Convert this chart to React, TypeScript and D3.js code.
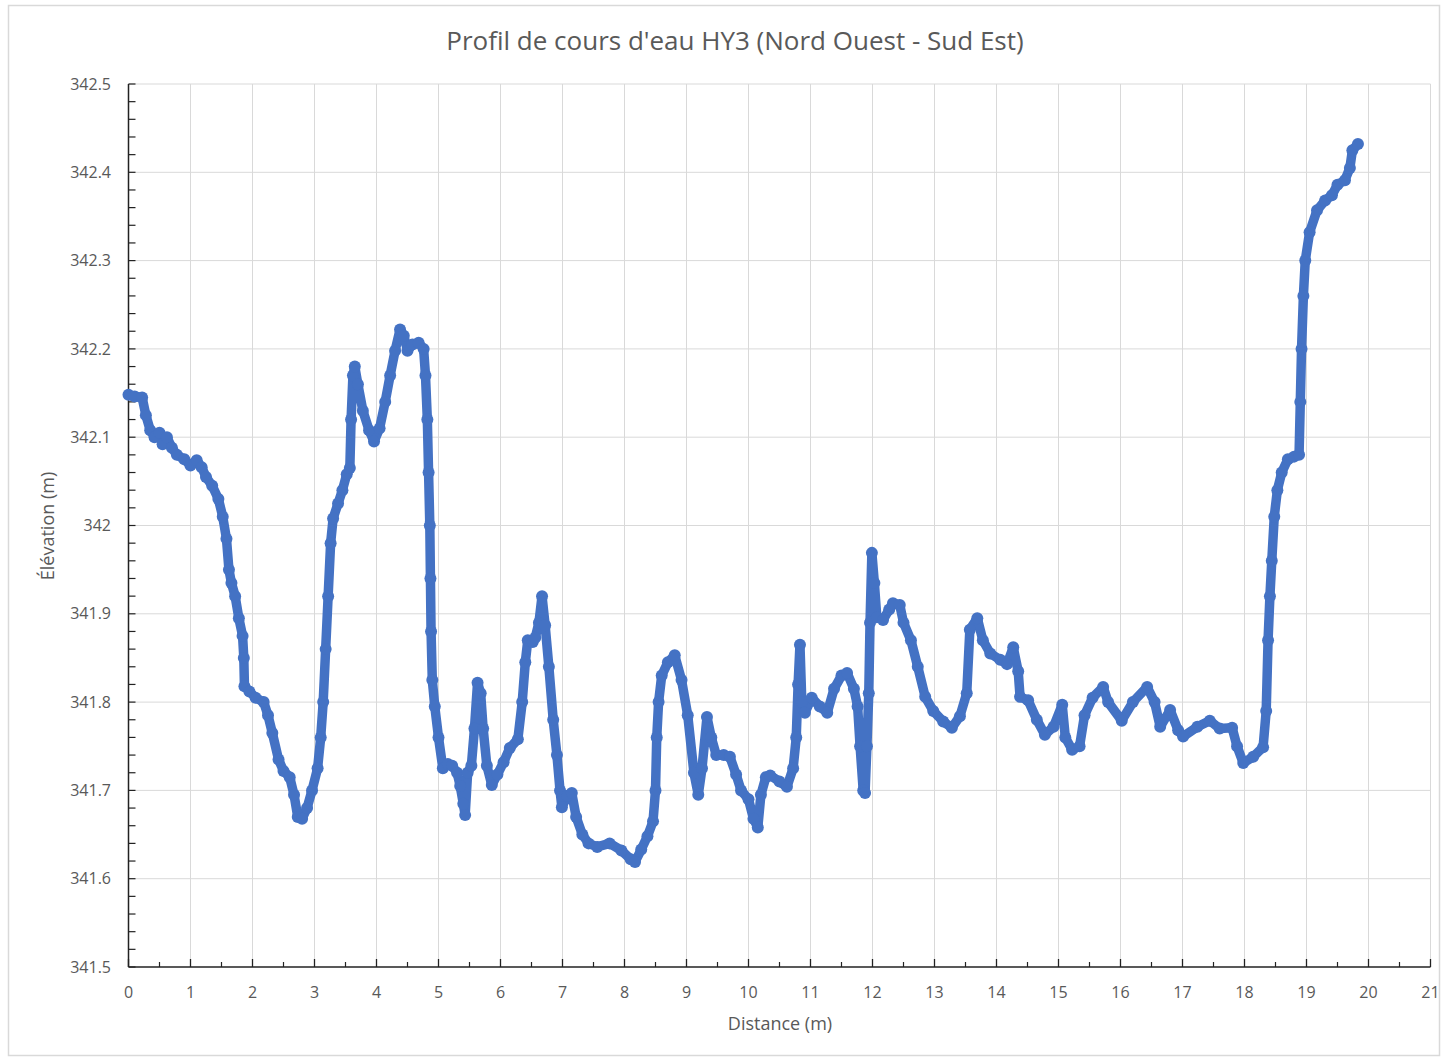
import React from "react";
import * as d3 from "d3";

const distance: number[] = [
  0.0, 0.1, 0.22, 0.28, 0.35, 0.42, 0.5, 0.55, 0.62, 0.7, 0.78, 0.9, 1.0, 1.1, 1.18, 1.25, 1.35, 1.45, 1.52, 1.58,
  1.62, 1.66, 1.72, 1.78, 1.84, 1.86, 1.87, 1.95, 2.05, 2.18, 2.25, 2.32, 2.42, 2.5, 2.6, 2.67, 2.73, 2.8, 2.88, 2.96,
  3.05, 3.1, 3.14, 3.18, 3.22, 3.26, 3.3, 3.38, 3.45, 3.52, 3.57, 3.59, 3.62, 3.65, 3.7, 3.78, 3.88, 3.96, 4.05, 4.14,
  4.22, 4.3, 4.38, 4.44, 4.5, 4.58, 4.68, 4.76, 4.79, 4.82, 4.84, 4.86, 4.87, 4.88, 4.9, 4.94, 5.0, 5.07, 5.15, 5.22,
  5.3, 5.35, 5.4, 5.43, 5.47, 5.53, 5.58, 5.63, 5.68, 5.72, 5.78, 5.86, 5.95, 6.05, 6.15, 6.28, 6.35, 6.4, 6.44, 6.52,
  6.56, 6.62, 6.67, 6.72, 6.78, 6.85, 6.91, 6.96, 6.99, 7.08, 7.15, 7.22, 7.32, 7.42, 7.56, 7.76, 7.95, 8.1, 8.17, 8.27,
  8.37, 8.46, 8.5, 8.52, 8.55, 8.6, 8.7, 8.81, 8.92, 9.02, 9.12, 9.19, 9.25, 9.33, 9.4, 9.48, 9.6, 9.7, 9.8, 9.88,
  10.0, 10.08, 10.15, 10.2, 10.28, 10.35, 10.5, 10.62, 10.72, 10.77, 10.8, 10.83, 10.86, 10.91, 11.02, 11.15, 11.27, 11.38, 11.5, 11.59,
  11.7, 11.76, 11.8, 11.85, 11.88, 11.91, 11.94, 11.96, 11.99, 12.03, 12.07, 12.17, 12.27, 12.33, 12.44, 12.5, 12.62, 12.73, 12.85, 12.98,
  13.14, 13.28, 13.41, 13.52, 13.57, 13.69, 13.78, 13.9, 14.06, 14.17, 14.27, 14.35, 14.38, 14.51, 14.65, 14.78, 14.92, 15.06, 15.11, 15.22,
  15.34, 15.42, 15.55, 15.72, 15.8, 16.02, 16.2, 16.43, 16.55, 16.64, 16.8, 16.93, 17.01, 17.24, 17.44, 17.6, 17.8, 17.88, 17.98, 18.14,
  18.3, 18.35, 18.38, 18.41, 18.44, 18.48, 18.53, 18.6, 18.7, 18.8, 18.88, 18.9, 18.92, 18.95, 18.98, 19.05, 19.17, 19.3, 19.41, 19.5,
  19.62, 19.7, 19.74, 19.83,
];

const elevation: number[] = [
  342.148, 342.146, 342.145, 342.125, 342.108, 342.1, 342.105, 342.092, 342.1, 342.088, 342.08, 342.075, 342.068, 342.074, 342.066, 342.055, 342.045, 342.03, 342.01, 341.985,
  341.95, 341.935, 341.92, 341.895, 341.875, 341.85, 341.818, 341.812, 341.805, 341.8, 341.785, 341.765, 341.735, 341.722, 341.715, 341.695, 341.67, 341.668, 341.68, 341.7,
  341.725, 341.76, 341.8, 341.86, 341.92, 341.98, 342.008, 342.025, 342.04, 342.058, 342.065, 342.12, 342.17, 342.18, 342.16, 342.13, 342.108, 342.095, 342.11, 342.14,
  342.17, 342.198, 342.222, 342.215, 342.198, 342.205, 342.207, 342.2, 342.17, 342.12, 342.06, 342.0, 341.94, 341.88, 341.825, 341.795, 341.76, 341.725, 341.73, 341.728,
  341.72, 341.705, 341.685, 341.672, 341.72, 341.728, 341.77, 341.822, 341.81, 341.77, 341.728, 341.706, 341.718, 341.732, 341.748, 341.758, 341.8, 341.845, 341.87, 341.868,
  341.873, 341.89, 341.92, 341.887, 341.84, 341.78, 341.74, 341.7, 341.681, 341.694, 341.697, 341.67, 341.65, 341.64, 341.636, 341.64, 341.632, 341.622, 341.619, 341.633,
  341.648, 341.665, 341.7, 341.76, 341.8, 341.83, 341.845, 341.853, 341.825, 341.785, 341.72, 341.695, 341.725, 341.783, 341.76, 341.74, 341.74, 341.738, 341.718, 341.7,
  341.69, 341.668, 341.658, 341.695, 341.715, 341.717, 341.71, 341.704, 341.725, 341.76, 341.82, 341.865, 341.8, 341.788, 341.805, 341.795, 341.788, 341.815, 341.83, 341.833,
  341.815, 341.795, 341.75, 341.7, 341.697, 341.75, 341.81, 341.89, 341.969, 341.935, 341.896, 341.893, 341.905, 341.912, 341.91, 341.89, 341.87, 341.84, 341.806, 341.79,
  341.778, 341.771, 341.784, 341.81, 341.882, 341.895, 341.87, 341.855, 341.848, 341.843, 341.862, 341.835, 341.806, 341.802, 341.78, 341.763, 341.772, 341.797, 341.76, 341.746,
  341.75, 341.785, 341.805, 341.817, 341.8, 341.779, 341.8, 341.817, 341.8, 341.772, 341.791, 341.768, 341.761, 341.772, 341.779, 341.77, 341.771, 341.75, 341.731, 341.738,
  341.749, 341.79, 341.87, 341.92, 341.96, 342.01, 342.04, 342.06, 342.075, 342.078, 342.08, 342.14, 342.2, 342.26, 342.3, 342.332, 342.357, 342.368, 342.374, 342.386,
  342.391, 342.405, 342.425, 342.432,
];

const xMajorTicks: number[] = d3.range(0, 22, 1);
const xMinorTicks: number[] = d3.range(0.5, 21, 1);
const yMajorTicks: number[] = [341.5, 341.6, 341.7, 341.8, 341.9, 342, 342.1, 342.2, 342.3, 342.4, 342.5];
const yMinorTicks: number[] = d3.range(0, 51).map((i) => 341.5 + i * 0.02);

const TITLE = "Profil de cours d'eau HY3 (Nord Ouest - Sud Est)";
const X_TITLE = "Distance (m)";
const Y_TITLE = "Élévation (m)";

export default function App() {
  const W = 1446;
  const H = 1058;
  const x = d3.scaleLinear().domain([0, 21]).range([128.5, 1430.5]);
  const y = d3.scaleLinear().domain([341.5, 342.5]).range([967, 84]);
  const pts = distance.map((d, i) => [d, elevation[i]] as [number, number]);
  const line = d3
    .line<[number, number]>()
    .x((d) => x(d[0]))
    .y((d) => y(d[1]));
  const blue = "#4472C4";
  const grid = "#d9d9d9";
  const txt = "#595959";
  const font = "'Open Sans', 'Liberation Sans', sans-serif";
  const [x0, x1] = x.range();
  const [yb, yt] = y.range();

  return (
    <svg
      width={W}
      height={H}
      style={{ position: "absolute", left: 0, top: 0, background: "#fff" }}
      fontFamily={font}
    >
      <rect x={8.5} y={5.5} width={1431} height={1050} fill="#fff" stroke={grid} strokeWidth={1.5} />
      {xMajorTicks.filter((t) => t > 0).map((t) => (
        <line key={"gx" + t} x1={x(t)} x2={x(t)} y1={yt} y2={yb} stroke={grid} strokeWidth={1} />
      ))}
      {yMajorTicks.filter((t) => t > 341.5).map((t) => (
        <line key={"gy" + t} x1={x0} x2={x1} y1={y(t)} y2={y(t)} stroke={grid} strokeWidth={1} />
      ))}
      <line x1={x0} x2={x0} y1={yt} y2={yb} stroke="#222" strokeWidth={1.5} />
      <line x1={x0} x2={x1} y1={yb} y2={yb} stroke="#222" strokeWidth={1.5} />
      {yMinorTicks.map((t, i) => (
        <line key={"ymt" + i} x1={x0} x2={x0 + 7} y1={y(t)} y2={y(t)} stroke="#222" strokeWidth={1.2} />
      ))}
      {xMajorTicks.map((t) => (
        <line key={"xt" + t} x1={x(t)} x2={x(t)} y1={yb} y2={yb - 8} stroke="#222" strokeWidth={1.3} />
      ))}
      {xMinorTicks.map((t) => (
        <line key={"xmt" + t} x1={x(t)} x2={x(t)} y1={yb} y2={yb - 5} stroke="#222" strokeWidth={1.2} />
      ))}
      {yMajorTicks.map((t) => (
        <text key={"yl" + t} x={111} y={y(t)} dy="0.35em" textAnchor="end" fontSize={16} fill={txt}>
          {String(+t.toFixed(1))}
        </text>
      ))}
      {xMajorTicks.map((t) => (
        <text key={"xl" + t} x={x(t)} y={992} dy="0.35em" textAnchor="middle" fontSize={16} fill={txt}>
          {t}
        </text>
      ))}
      <text x={735} y={41} dy="0.35em" textAnchor="middle" fontSize={26} fill={txt}>
        {TITLE}
      </text>
      <text x={780} y={1024} dy="0.35em" textAnchor="middle" fontSize={18} fill={txt}>
        {X_TITLE}
      </text>
      <text
        transform={`translate(48,526) rotate(-90)`}
        dy="0.35em"
        textAnchor="middle"
        fontSize={18}
        fill={txt}
      >
        {Y_TITLE}
      </text>
      <path d={line(pts) || ""} fill="none" stroke={blue} strokeWidth={9.5} strokeLinejoin="round" strokeLinecap="round" />
      {pts.map((p, i) => (
        <circle key={"c" + i} cx={x(p[0])} cy={y(p[1])} r={6} fill={blue} />
      ))}
    </svg>
  );
}
